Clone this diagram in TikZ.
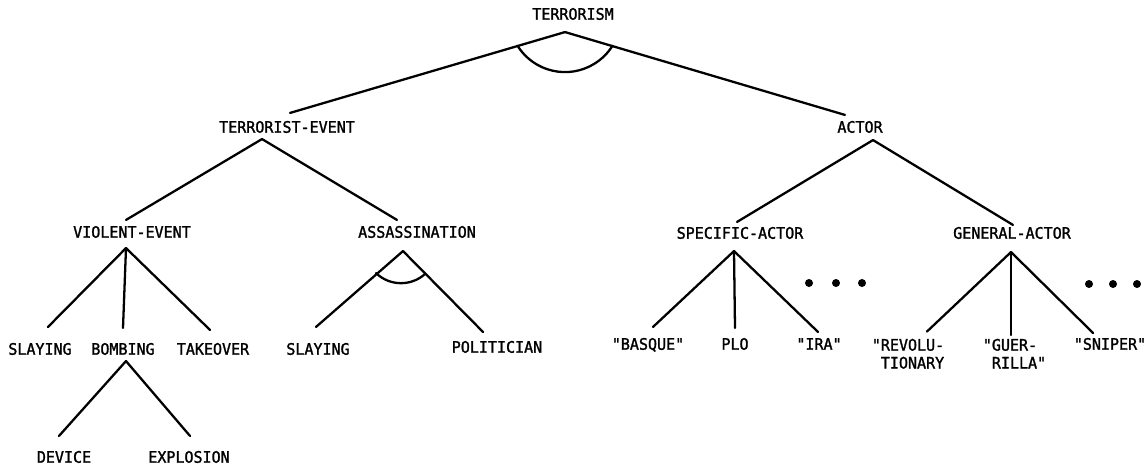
\documentclass[tikz,border=0pt]{standalone}
\usepackage{fontspec}
\usepackage{tikz}
\usetikzlibrary{calc}
\newfontfamily\treefont[FakeStretch=0.95, FakeBold=1.5]{DejaVu Sans Mono}

\tikzset{
  lbl/.style={font=\treefont\fontsize{9}{10.2}\selectfont, inner sep=0pt, text height=6.5pt, text depth=0pt},
  lbltwo/.style={font=\treefont\fontsize{9}{10.2}\selectfont, inner sep=0pt, align=left, anchor=north},
  branch/.style={line width=1.3pt, line cap=round, line join=round}
}

\begin{document}
\begin{tikzpicture}[x=0.02cm, y=0.02cm]

  \useasboundingbox (0,0) rectangle (1148,-467);

  % Labels
  \node[lbl] (terrorism) at (573,-14) {TERRORISM};
  \node[lbl] (tevent) at (287,-127) {TERRORIST-EVENT};
  \node[lbl] (actor) at (860,-127) {ACTOR};

  \node[lbl] (violent) at (132,-232) {VIOLENT-EVENT};
  \node[lbl] (assass) at (417,-232) {ASSASSINATION};
  \node[lbl] (specific) at (740,-233) {SPECIFIC-ACTOR};
  \node[lbl] (general) at (1012,-233) {GENERAL-ACTOR};

  \node[lbl] (slay1) at (40,-349) {SLAYING};
  \node[lbl] (bomb) at (123,-349) {BOMBING};
  \node[lbl] (takeover) at (213,-349) {TAKEOVER};
  \node[lbl] (slay2) at (318,-349) {SLAYING};
  \node[lbl] (politician) at (497,-347) {POLITICIAN};

  \node[lbl] (basque) at (648,-344) {"BASQUE"};
  \node[lbl] (plo) at (735,-344) {PLO};
  \node[lbl] (ira) at (819,-344) {"IRA"};
  \node[lbltwo] (revol) at (908,-338.5) {"REVOLU-\\\phantom{"}TIONARY};
  \node[lbltwo] (guer) at (1014.5,-338.5) {"GUER-\\\phantom{"}RILLA"};
  \node[lbl] (sniper) at (1110,-344) {"SNIPER"};

  \node[lbl] (device) at (64,-457) {DEVICE};
  \node[lbl] (explosion) at (189,-457) {EXPLOSION};

  % Branch points
  \coordinate (terrorism-b) at ($(terrorism.south)+(-8,-12)$);
  \coordinate (tevent-b) at ($(tevent.south)+(-25,-6)$);
  \coordinate (actor-b) at ($(actor.south)+(13,-7)$);
  \coordinate (violent-b) at ($(violent.south)+(-6,-10)$);
  \coordinate (assass-b) at ($(assass.south)+(-14,-13)$);
  \coordinate (specific-b) at ($(specific.south)+(-6,-12)$);
  \coordinate (general-b) at ($(general.south)+(-1,-13)$);
  \coordinate (bomb-b) at ($(bomb.south)+(3,-6)$);

  % Top level (AND arc)
  \draw[branch] (terrorism-b) -- ($(tevent.north)+(3,8)$);
  \draw[branch] (terrorism-b) -- ($(actor.north)+(-15,6)$);
  \draw[branch] ([shift={(-47.5,-13.7)}]terrorism-b) arc[start angle=212, end angle=328, radius=56];

  % Terrorist event
  \draw[branch] (tevent-b) -- ($(violent.north)+(-6,6)$);
  \draw[branch] (tevent-b) -- ($(assass.north)+(-20,6)$);

  \draw[branch] (violent-b) -- ($(slay1.north)+(8,16)$);
  \draw[branch] (violent-b) -- ($(bomb.north)+(0,15)$);
  \draw[branch] (violent-b) -- ($(takeover.north)+(-3,13)$);

  \draw[branch] (bomb-b) -- ($(device.north)+(-5,15)$);
  \draw[branch] (bomb-b) -- ($(explosion.north)+(1,15)$);

  \draw[branch] (assass-b) -- ($(slay2.north)+(-2,16)$);
  \draw[branch] (assass-b) -- ($(politician.north)+(-14,9)$);
  \draw[branch] ([shift={(-27,-22)}]assass-b) arc[start angle=226, end angle=312, radius=36];

  % Actor
  \draw[branch] (actor-b) -- ($(specific.north)+(-3,5)$);
  \draw[branch] (actor-b) -- ($(general.north)+(1,2)$);

  \draw[branch] (specific-b) -- ($(basque.north)+(5,11)$);
  \draw[branch] (specific-b) -- ($(plo.north)+(0,10)$);
  \draw[branch] (specific-b) -- ($(ira.north)+(-1,6)$);

  \draw[branch] (general-b) -- ($(revol.north)+(19,7)$);
  \draw[branch] (general-b) -- ($(guer.north)+(-3.5,3.5)$);
  \draw[branch] (general-b) -- ($(sniper.north)+(-17,5)$);

  % Ellipsis dots
  \foreach \x/\y in {809/-283, 836/-283, 862/-283, 1089/-284, 1113/-284, 1137/-284}{
    \fill (\x,\y) circle[radius=4];
  }

\end{tikzpicture}
\end{document}
